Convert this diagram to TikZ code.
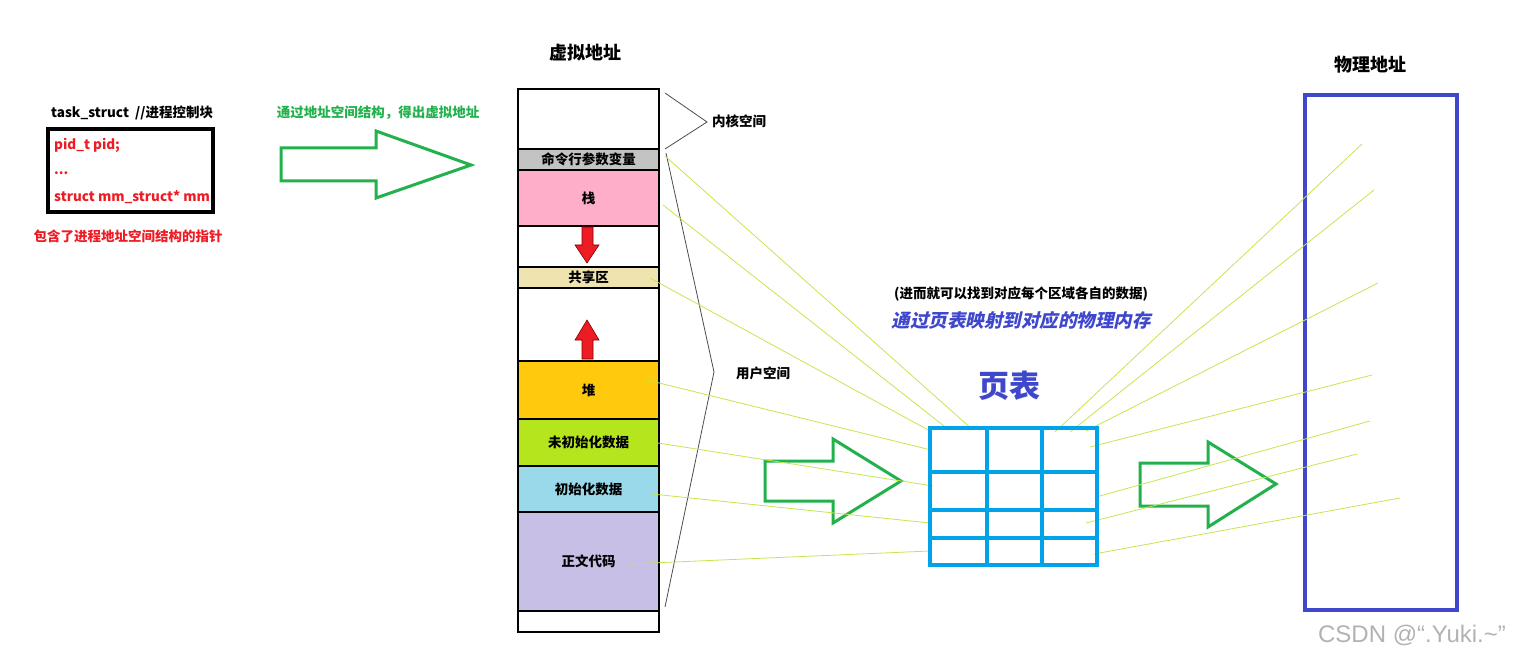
\documentclass[tikz,border=0pt]{standalone}
\usepackage{fontspec}
\setmainfont{Noto Sans CJK SC}
\newfontfamily\slantfont[FakeSlant=0.22]{Noto Sans CJK SC}
\newfontfamily\wmfont{Liberation Sans}
\definecolor{tgreen}{HTML}{22B14C}
\definecolor{tblue}{HTML}{00A2E8}
\definecolor{indig}{HTML}{3F48CC}
\definecolor{tred}{HTML}{ED1C24}
\definecolor{linkc}{RGB}{195,230,80}
\definecolor{sgray}{HTML}{C3C3C3}
\definecolor{spink}{HTML}{FFAEC9}
\definecolor{sbeige}{HTML}{EFE4B0}
\definecolor{sorange}{HTML}{FFC90E}
\definecolor{slime}{HTML}{B5E61D}
\definecolor{slblue}{HTML}{99D9EA}
\definecolor{slav}{HTML}{C8BFE7}
\tikzset{
  lbl/.style={inner sep=0pt, font=\bfseries\fontsize{13.5}{15}\selectfont},
  big/.style={inner sep=0pt, font=\bfseries\fontsize{18}{20}\selectfont},
  seg/.style={draw=black, line width=2.5pt, minimum width=141pt, inner sep=0pt, font=\bfseries\fontsize{13.5}{15}\selectfont},
  fatarrow/.style={draw=tgreen, line width=3pt, line join=miter},
  redarrow/.style={fill=tred, draw=red!50!black, line width=0.6pt},
  link/.style={draw=linkc, line width=0.8pt},
  brace/.style={draw=black!70, line width=0.8pt},
  grid/.style={draw=tblue, line width=3.5pt},
}
\begin{document}
\begin{tikzpicture}[x=1pt,y=-1pt]
\useasboundingbox (0,0) rectangle (1534,663);

% left block
\node[lbl, anchor=west] (tsklbl) at (51,113) {task\_struct\ \ //进程控制块};
\node[draw=black, line width=3.5pt, minimum width=165pt, minimum height=83pt, inner sep=0pt] (tsk) at (130.5,170.5) {};
\node[lbl, text=tred, anchor=base west] (l1) at (54,150) {pid\_t pid;};
\node[lbl, text=tred, anchor=base west] (l2) at (54,175) {...};
\node[lbl, text=tred, anchor=base west] (l3) at (54,202) {struct mm\_struct* mm};
\node[lbl, text=tred] (ptrnote) at (128,236) {包含了进程地址空间结构的指针};

% green arrow 1
\node[lbl, text=tgreen] (g1) at (378,113) {通过地址空间结构，得出虚拟地址};
\draw[fatarrow] (281,148) -- (376,148) -- (376,131) -- (471,165) -- (376,198) -- (376,181) -- (281,181) -- cycle;

% virtual address column
\node[big] (vaddr) at (585,53) {虚拟地址};
\node[seg, minimum height=60pt] (kern) at (588.5,119) {};
\node[seg, minimum height=21pt, fill=sgray] (cmd) at (588.5,159.5) {命令行参数变量};
\node[seg, minimum height=56pt, fill=spink] (stk) at (588.5,198) {栈};
\node[seg, minimum height=41pt] (gap1) at (588.5,246.5) {};
\node[seg, minimum height=21pt, fill=sbeige] (shr) at (588.5,277.5) {共享区};
\node[seg, minimum height=73pt] (gap2) at (588.5,324.5) {};
\node[seg, minimum height=58pt, fill=sorange] (heap) at (588.5,390) {堆};
\node[seg, minimum height=47pt, fill=slime] (bss) at (588.5,442.5) {未初始化数据};
\node[seg, minimum height=46pt, fill=slblue] (dat) at (588.5,489) {初始化数据};
\node[seg, minimum height=99pt, fill=slav] (txt) at (588.5,561.5) {正文代码};
\node[seg, minimum height=21pt] (bot) at (588.5,621.5) {};

% red arrows
\draw[redarrow] (582,227) -- (593,227) -- (593,245) -- (599,245) -- (587,263) -- (575,245) -- (582,245) -- cycle;
\draw[redarrow] (582,359) -- (593,359) -- (593,340) -- (599,340) -- (587,320) -- (575,340) -- (582,340) -- cycle;

% braces
\coordinate (kb1) at (665,93);
\coordinate (kb2) at (707,122);
\coordinate (kb3) at (665,149);
\draw[brace] (kb1) -- (kb2) -- (kb3);
\node[lbl, anchor=west] (kernlbl) at (712,121) {内核空间};
\coordinate (ub1) at (666,153);
\coordinate (ub2) at (714,372);
\coordinate (ub3) at (665,607);
\draw[brace] (ub1) -- (ub2) -- (ub3);
\node[lbl, anchor=west] (userlbl) at (736,373) {用户空间};

% page table texts
\node[lbl] (note) at (1021,294) {(进而就可以找到对应每个区域各自的数据)};
\node[inner sep=0pt, text=indig, font=\slantfont\bfseries\fontsize{18.5}{20}\selectfont] (map) at (1021,320) {通过页表映射到对应的物理内存};
\node[inner sep=0pt, text=indig, font=\bfseries\fontsize{31}{33}\selectfont] (ptlbl) at (1009,386) {页表};

% green arrows 2 and 3
\draw[fatarrow] (765,461) -- (833,461) -- (833,439) -- (901,481) -- (833,523) -- (833,501) -- (765,501) -- cycle;
\draw[fatarrow] (1140,463) -- (1208,463) -- (1208,442) -- (1276,484) -- (1208,527) -- (1208,506) -- (1140,506) -- cycle;

% physical address
\node[big] (paddr) at (1370,65) {物理地址};
\node[draw=indig, line width=4pt, minimum width=152pt, minimum height=514pt, inner sep=0pt] (phys) at (1381,352.5) {};

% link lines: column -> table
\coordinate (s1) at (665,156);
\coordinate (s2) at (663,205);
\coordinate (s3) at (650,278);
\coordinate (s4) at (647,380);
\coordinate (s5) at (658,443);
\coordinate (s6) at (652,494);
\coordinate (s7) at (628,564);
\coordinate (t1) at (973,430);
\coordinate (t2) at (949,430);
\coordinate (t3) at (930,431);
\coordinate (t4) at (931,450);
\coordinate (t5) at (933,486);
\coordinate (t6) at (930,523);
\coordinate (t7) at (930,551);
\foreach \i in {1,...,7} \draw[link] (s\i) -- (t\i);
% table -> physical memory
\coordinate (u1) at (1055,432);
\coordinate (u2) at (1070,432);
\coordinate (u3) at (1086,431);
\coordinate (u4) at (1090,447);
\coordinate (u5) at (1096,497);
\coordinate (u6) at (1086,523);
\coordinate (u7) at (1094,554);
\coordinate (p1) at (1362,144);
\coordinate (p2) at (1374,190);
\coordinate (p3) at (1378,283);
\coordinate (p4) at (1372,375);
\coordinate (p5) at (1370,421);
\coordinate (p6) at (1357,454);
\coordinate (p7) at (1400,498);
\foreach \i in {1,...,7} \draw[link] (u\i) -- (p\i);

% page table grid
\node[grid, minimum width=167pt, minimum height=137pt, inner sep=0pt] (pt) at (1013.5,496.5) {};
\draw[grid] (987,428) -- (987,565);
\draw[grid] (1042,428) -- (1042,565);
\draw[grid] (930,472) -- (1097,472);
\draw[grid] (930,510) -- (1097,510);
\draw[grid] (930,538) -- (1097,538);

% watermark
\node[inner sep=0pt, text=black!30, font=\wmfont\fontsize{24}{26}\selectfont] (wm) at (1412,635) {CSDN @“.Yuki.\textasciitilde”};
\end{tikzpicture}
\end{document}
